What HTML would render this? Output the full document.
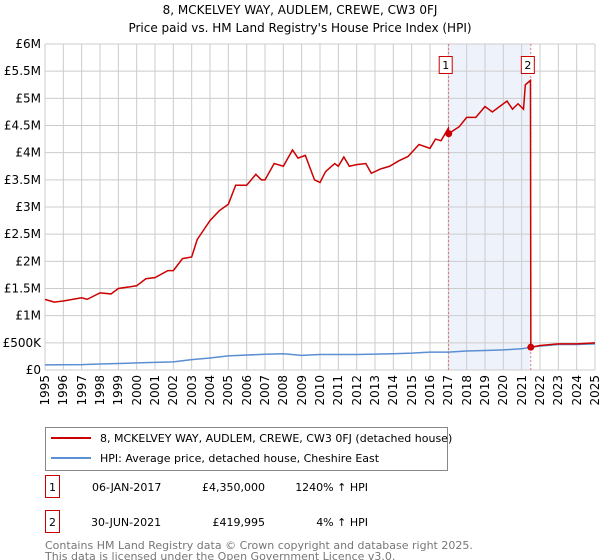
<!DOCTYPE html>
<html><head><meta charset="utf-8"><style>
body{margin:0;background:#fff;font-family:"Liberation Sans","DejaVu Sans",sans-serif;}
svg text{font-family:"DejaVu Sans","Liberation Sans",sans-serif;}
#wrap{position:relative;width:600px;height:560px;overflow:hidden;}
.xl{position:absolute;font:12px "DejaVu Sans","Liberation Sans",sans-serif;line-height:12px;white-space:nowrap;writing-mode:vertical-rl;transform:rotate(180deg);color:#000;}
</style></head><body>
<div id="wrap">
<svg id="c" width="600" height="560" xmlns="http://www.w3.org/2000/svg" style="position:absolute;left:0;top:0">
<text x="300" y="14" text-anchor="middle" font-size="12" fill="#000">8, MCKELVEY WAY, AUDLEM, CREWE, CW3 0FJ</text>
<text x="300" y="32" text-anchor="middle" font-size="12" fill="#000">Price paid vs. HM Land Registry's House Price Index (HPI)</text>
<g id="grid"></g><g id="marks"></g>
<g>
<rect x="45.5" y="427.5" width="402" height="43" fill="#fff" stroke="#888"/>
<line x1="51" y1="438" x2="91" y2="438" stroke="#cc0000" stroke-width="2"/>
<text x="100" y="442" font-size="11">8, MCKELVEY WAY, AUDLEM, CREWE, CW3 0FJ (detached house)</text>
<line x1="51" y1="458" x2="91" y2="458" stroke="#5b8fd4" stroke-width="2"/>
<text x="100" y="462" font-size="11">HPI: Average price, detached house, Cheshire East</text>
</g>
<g font-size="11">
<rect x="45.5" y="475.5" width="14" height="22" fill="#fff" stroke="#cc0000"/><text x="52.5" y="491" text-anchor="middle">1</text>
<text x="92" y="491">06-JAN-2017</text><text x="265" y="491" text-anchor="end">£4,350,000</text><text x="368" y="491" text-anchor="end">1240% ↑ HPI</text>
<rect x="45.5" y="510.5" width="14" height="22" fill="#fff" stroke="#cc0000"/><text x="52.5" y="526" text-anchor="middle">2</text>
<text x="91" y="526">30-JUN-2021</text><text x="265" y="526" text-anchor="end">£419,995</text><text x="368" y="526" text-anchor="end">4% ↑ HPI</text>
</g>
<text x="45" y="549" font-size="11" fill="#777">Contains HM Land Registry data © Crown copyright and database right 2025.</text>
<text x="45" y="560" font-size="11" fill="#777">This data is licensed under the Open Government Licence v3.0.</text>
</svg>
</div>
<script>
const yTicks=[0,500000,1000000,1500000,2000000,2500000,3000000,3500000,4000000,4500000,5000000,5500000,6000000];
const yLabels=["£0","£500K","£1M","£1.5M","£2M","£2.5M","£3M","£3.5M","£4M","£4.5M","£5M","£5.5M","£6M"];
const years=[1995,1996,1997,1998,1999,2000,2001,2002,2003,2004,2005,2006,2007,2008,2009,2010,2011,2012,2013,2014,2015,2016,2017,2018,2019,2020,2021,2022,2023,2024,2025];
const redT=[1995,1995.5,1996,1997,1997.3,1998,1998.6,1999,2000,2000.5,2001,2001.7,2002,2002.5,2003,2003.3,2003.7,2004,2004.5,2005,2005.4,2006,2006.5,2006.8,2007,2007.5,2008,2008.5,2008.8,2009.2,2009.7,2010,2010.3,2010.8,2011,2011.3,2011.6,2012,2012.5,2012.8,2013.3,2013.8,2014.3,2014.8,2015.4,2016,2016.3,2016.6,2017,2017.02,2017.6,2018,2018.5,2019,2019.4,2019.8,2020.2,2020.5,2020.8,2021.1,2021.2,2021.48,2021.5,2022,2023,2024,2025];
const redV=[1300000,1250000,1270000,1330000,1300000,1420000,1400000,1500000,1550000,1680000,1700000,1830000,1830000,2050000,2080000,2400000,2600000,2750000,2930000,3050000,3400000,3400000,3600000,3500000,3500000,3800000,3750000,4050000,3900000,3950000,3500000,3450000,3650000,3800000,3750000,3920000,3750000,3780000,3800000,3620000,3700000,3750000,3850000,3930000,4150000,4080000,4250000,4220000,4450000,4350000,4480000,4650000,4650000,4850000,4750000,4850000,4950000,4800000,4900000,4800000,5250000,5330000,419995,450000,480000,480000,500000];
const hpiT=[1995,1997,1998,2000,2002,2003,2004,2005,2007,2008,2009,2010,2012,2014,2015,2016,2017,2018,2019,2020,2021,2021.5,2022,2023,2024,2025];
const hpiV=[95000,100000,110000,130000,150000,190000,220000,260000,290000,300000,270000,285000,285000,300000,310000,330000,330000,350000,360000,370000,390000,420000,440000,470000,470000,480000];
const sales=[[2017.02,4350000,"1"],[2021.5,419995,"2"]];
const X0=45,X1=595,Y0=370,Y1=44;
const xs=t=>X0+(t-1995)/30*(X1-X0), ys=v=>Y0-v/6000000*(Y0-Y1);
const NS="http://www.w3.org/2000/svg";
function mk(tag,attrs,parent,txt){const e=document.createElementNS(NS,tag);for(const k in attrs)e.setAttribute(k,attrs[k]);if(txt!=null)e.textContent=txt;parent.appendChild(e);return e;}
const g=document.getElementById('grid'),m=document.getElementById('marks'),wrap=document.getElementById('wrap');
let r=mk('rect',{x:xs(sales[0][0]),y:Y1,width:xs(sales[1][0])-xs(sales[0][0]),height:Y0-Y1,fill:'#eef2fb'},g);


yTicks.forEach((v,i)=>{
 let l=mk('line',{x1:X0,x2:X1,y1:ys(v),y2:ys(v),stroke:'#ccc'},g);
 
 
 let t=mk('text',{x:X0-4,y:ys(v)+4,'text-anchor':'end','font-size':'12'},g,yLabels[i]);
 
 
});
years.forEach(y=>{
 let l=mk('line',{x1:xs(y),x2:xs(y),y1:Y1,y2:Y0,stroke:'#ccc'},g);
 
 
 const d=document.createElement('div');
 d.className='xl';
 d.textContent=String(y);
 d.style.left=(xs(y)-6)+'px';
 d.style.top=(Y0+5)+'px';
 
 
 wrap.appendChild(d);
});
sales.forEach(s=>{
 let l=mk('line',{x1:xs(s[0]),x2:xs(s[0]),y1:Y1,y2:Y0,stroke:'#e06060','stroke-dasharray':'2,2','stroke-width':'0.8'},m);
 
 
});
let p=mk('polyline',{points:hpiT.map((t,i)=>xs(t)+','+ys(hpiV[i])).join(' '),fill:'none',stroke:'#5b8fd4','stroke-width':'1.5'},m);


let q=mk('polyline',{points:redT.map((t,i)=>xs(t)+','+ys(redV[i])).join(' '),fill:'none',stroke:'#cc0000','stroke-width':'1.5'},m);


sales.forEach(s=>{
 let c=mk('circle',{cx:xs(s[0]),cy:ys(s[1]),r:3.5,fill:'#cc0000'},m);
 
 
 let b=mk('rect',{x:xs(s[0])-9.5,y:56.5,width:13,height:17,fill:'#fff',stroke:'#cc0000'},m);
 
 
 let t=mk('text',{x:xs(s[0])-3,y:69,'text-anchor':'middle','font-size':'11'},m,s[2]);
 
 
});
</script>
</body></html>
